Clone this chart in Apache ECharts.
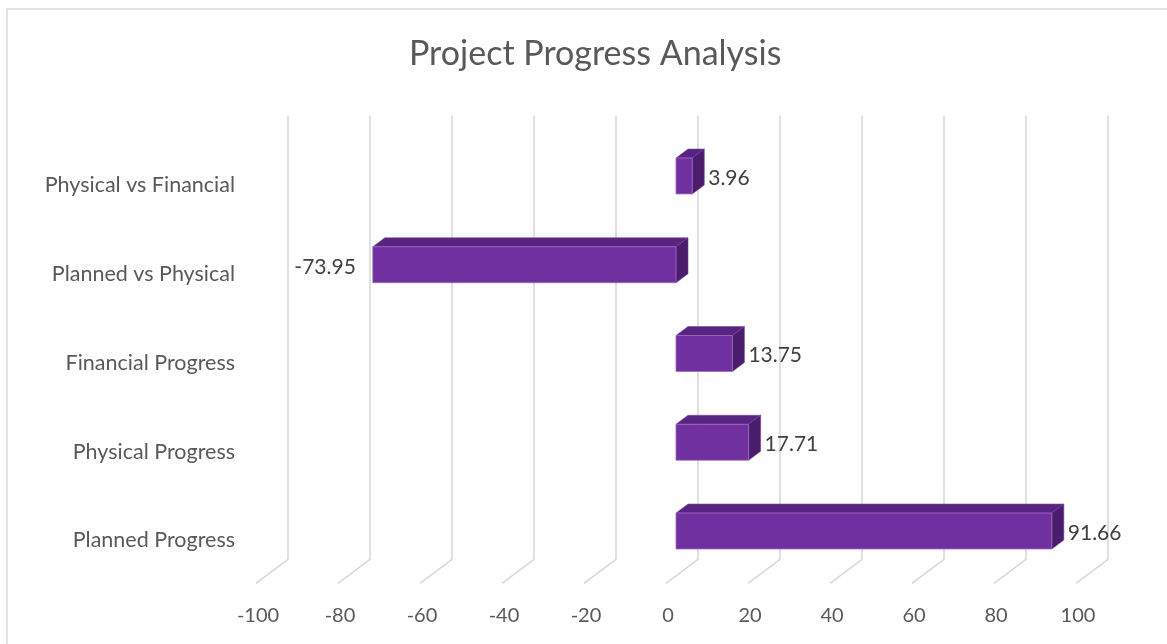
<!DOCTYPE html>
<html lang="en">
<head>
    <meta charset="UTF-8">
    <title>Project Progress Analysis</title>
    <script src="https://cdn.jsdelivr.net/npm/echarts@6/dist/echarts.min.js"></script>
    <style>
        html, body { margin: 0; padding: 0; background: #fff; }
        #main { width: 1167px; height: 644px; }
    </style>
</head>
<body>
<div id="main"></div>
<script type="text/javascript">
    // chart data
    var categories = ['Planned Progress', 'Physical Progress', 'Financial Progress', 'Planned vs Physical', 'Physical vs Financial'];
    var progressValues = [91.66, 17.71, 13.75, -73.95, 3.96];
    var tickValues = [-100, -80, -60, -40, -20, 0, 20, 40, 60, 80, 100];

    var FONT = 'Lato, "Open Sans", sans-serif';
    var TEXT_COLOR = '#595959';
    // 3d depth of the bars (px)
    var DX = 12, DY = 9;

    var myChart = echarts.init(document.getElementById('main'));

    // back wall gridlines + floor diagonals
    function renderGrid(params, api) {
        var v = api.value(0);
        var p = api.coord([v, 0]);
        var cs = params.coordSys;
        var x = p[0] + 22;
        var yTop = cs.y - 16;
        var yFloor = cs.y + cs.height - 16;
        return {
            type: 'polyline',
            shape: { points: [[x, yTop], [x, yFloor], [x - 32, yFloor + 24]] },
            style: { stroke: '#d9d9d9', lineWidth: 1.6, fill: null },
            silent: true
        };
    }

    // 3d looking bar
    function renderBar(params, api) {
        var v = api.value(0);
        var c = api.value(1);
        var p0 = api.coord([0, c]);
        var p1 = api.coord([v, c]);
        var band = api.size([0, 1])[1];
        var h = band * 0.405;
        var yT = p0[1] - h / 2, yB = p0[1] + h / 2;
        var xl = Math.min(p0[0], p1[0]), xr = Math.max(p0[0], p1[0]);
        var label = {
            type: 'text',
            style: {
                text: v.toFixed(2),
                x: v >= 0 ? xr + DX + 4 : xl - 17,
                y: p0[1] + 2,
                align: v >= 0 ? 'left' : 'right',
                verticalAlign: 'middle',
                fill: '#404040',
                font: '21px ' + FONT
            }
        };
        return {
            type: 'group',
            children: [
                {
                    type: 'polygon',
                    shape: { points: [[xl, yT], [xl + DX, yT - DY], [xr + DX, yT - DY], [xr, yT]] },
                    style: { fill: '#572481', stroke: '#7d4aa8', lineWidth: 0.6 }
                },
                {
                    type: 'polygon',
                    shape: { points: [[xr, yT], [xr + DX, yT - DY], [xr + DX, yB - DY], [xr, yB]] },
                    style: { fill: '#4a1c6c', stroke: '#6e3d98', lineWidth: 0.6 }
                },
                {
                    type: 'rect',
                    shape: { x: xl, y: yT, width: xr - xl, height: yB - yT },
                    style: { fill: '#7030a0', stroke: '#9a6cc2', lineWidth: 0.8 }
                },
                label
            ]
        };
    }

    var option = {
        backgroundColor: '#fff',
        animation: false,
        title: {
            text: 'Project Progress Analysis',
            left: 404,
            top: 32,
            textStyle: { fontFamily: FONT, fontSize: 34, fontWeight: 'normal', color: TEXT_COLOR }
        },
        graphic: [{
            type: 'rect',
            shape: { x: 7, y: 9, width: 1200, height: 700 },
            style: { fill: null, stroke: '#d9d9d9', lineWidth: 1.5 },
            silent: true
        }],
        grid: { left: 266, right: 81, top: 131.6, bottom: 68.6 },
        xAxis: {
            type: 'value',
            min: -100,
            max: 100,
            interval: 20,
            axisLine: { show: false },
            axisTick: { show: false },
            splitLine: { show: false },
            axisLabel: {
                margin: 30,
                padding: [0, 16, 0, 0],
                color: TEXT_COLOR,
                fontFamily: FONT,
                fontSize: 20
            }
        },
        yAxis: {
            type: 'category',
            data: categories,
            axisLine: { show: false },
            axisTick: { show: false },
            splitLine: { show: false },
            axisLabel: {
                margin: 31,
                verticalAlign: 'top',
                lineHeight: 19,
                color: TEXT_COLOR,
                fontFamily: FONT,
                fontSize: 21.5
            }
        },
        series: [
            {
                type: 'custom',
                name: 'grid',
                silent: true,
                z: 1,
                renderItem: renderGrid,
                data: tickValues.map(function (t) { return [t, 0]; })
            },
            {
                type: 'custom',
                name: 'Progress',
                z: 2,
                renderItem: renderBar,
                encode: { x: 0, y: 1 },
                data: progressValues.map(function (v, i) { return [v, i]; })
            }
        ]
    };
    myChart.setOption(option);
</script>
</body>
</html>
